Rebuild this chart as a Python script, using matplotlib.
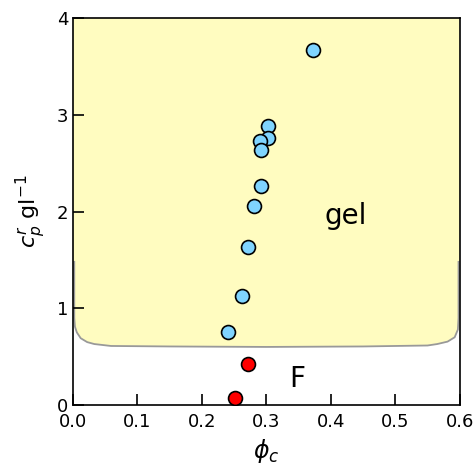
import matplotlib
matplotlib.use("Agg")
import matplotlib.pyplot as plt
import numpy as np

# gel points (blue) and fluid points (red)
phi_gel = [0.372, 0.302, 0.302, 0.290, 0.291, 0.291, 0.281, 0.271, 0.262, 0.241]
cp_gel = [3.67, 2.88, 2.76, 2.73, 2.64, 2.26, 2.06, 1.63, 1.13, 0.75]
phi_fluid = [0.271, 0.251]
cp_fluid = [0.42, 0.07]

# gel/fluid boundary
bound_phi = [0.002, 0.002, 0.003, 0.006, 0.012, 0.022, 0.033, 0.059, 0.15, 0.3,
             0.45, 0.55, 0.565, 0.581, 0.592, 0.597, 0.598, 0.598]
bound_cp = [1.48, 0.90, 0.81, 0.75, 0.69, 0.65, 0.63, 0.61, 0.605, 0.60,
            0.605, 0.615, 0.63, 0.655, 0.70, 0.78, 0.90, 1.48]

fig = plt.figure(figsize=(4.77, 4.66), dpi=100)
ax = fig.add_axes([0.153, 0.131, 0.811, 0.830])

poly_x = [0.0] + bound_phi + [0.6, 0.6, 0.0]
poly_y = [bound_cp[0]] + bound_cp + [bound_cp[-1], 5.0, 5.0]
ax.fill(poly_x, poly_y, color="#fffcc0", lw=0, zorder=0)
ax.plot(bound_phi, bound_cp, color="#999999", lw=1.3, zorder=1)

ax.scatter(phi_gel, cp_gel, s=100, c="#7fd4ff", edgecolors="black", linewidths=1.2, zorder=3)
ax.scatter(phi_fluid, cp_fluid, s=100, c="#ff0000", edgecolors="black", linewidths=1.2, zorder=3)

ax.text(0.39, 1.95, "gel", fontsize=20, ha="left", va="center")
ax.text(0.335, 0.27, "F", fontsize=20, ha="left", va="center")

ax.set_xlim(0, 0.6)
ax.set_ylim(0, 4)
ax.set_xticks(np.arange(0, 0.61, 0.1))
ax.set_xticklabels(["0.0", "0.1", "0.2", "0.3", "0.4", "0.5", "0.6"])
ax.set_yticks([0, 1, 2, 3, 4])
ax.tick_params(direction="in", length=8, width=1.2, labelsize=13,
               top=False, right=False)
ax.tick_params(axis="x", pad=6)
for sp in ax.spines.values():
    sp.set_linewidth(1.2)

ax.set_xlabel(r"$\phi_c$", fontsize=17, labelpad=4)
ax.set_ylabel(r"$c_p^r$ gl$^{-1}$", fontsize=16, labelpad=6)

fig.savefig("out.png", dpi=100)
